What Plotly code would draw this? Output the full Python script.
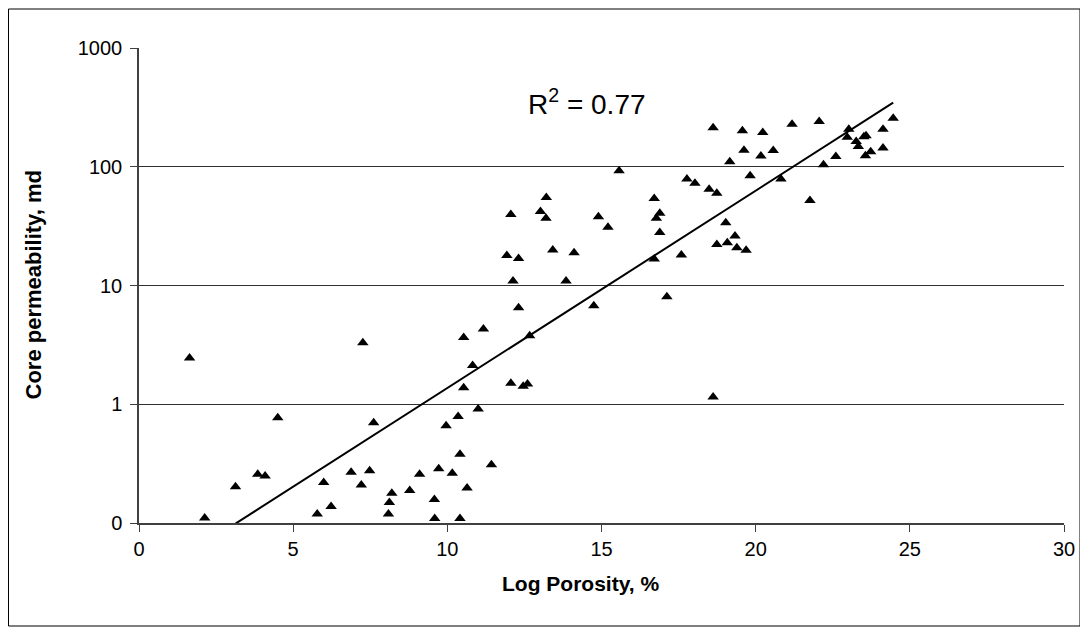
import plotly.graph_objects as go
import numpy as np

# Log porosity (%) and core permeability (md)
porosity = [1.64, 4.50, 3.85, 4.09, 3.13, 2.13, 5.99, 6.23, 5.78,
            7.26, 11.17, 10.53, 10.82, 12.06, 10.53, 7.61, 11.00, 10.35, 9.96,
            10.41, 11.43, 6.88, 7.48, 7.21, 9.10, 9.72, 10.16, 10.64, 8.78,
            8.20, 8.12, 8.09, 9.58, 9.59, 10.41,
            15.57, 13.21, 12.06, 13.02, 13.20, 14.90, 15.21, 11.93, 12.31, 13.42,
            14.11, 12.13, 13.85, 12.31, 14.75, 12.67, 12.46, 12.60,
            18.62, 19.57, 20.23, 21.18, 22.06, 19.62, 20.17, 20.57, 19.16, 19.82,
            20.82, 22.20, 22.60, 21.76, 23.02, 22.97, 23.26, 23.33, 23.51, 23.58,
            23.56, 23.73, 17.77, 18.03, 18.49, 18.74, 16.71, 16.89, 16.78, 16.89,
            19.03, 19.33, 18.74, 19.08, 19.39, 19.69, 16.71, 17.59,
            24.13, 24.46, 24.13, 17.12, 18.62]
permeability = [2.45, 0.77, 0.257, 0.249, 0.202, 0.11, 0.219, 0.138, 0.119,
                3.3, 4.3, 3.65, 2.12, 1.50, 1.38, 0.70, 0.91, 0.79, 0.66,
                0.38, 0.31, 0.267, 0.275, 0.209, 0.257, 0.286, 0.262, 0.197, 0.188,
                0.178, 0.149, 0.119, 0.158, 0.109, 0.109,
                92.6, 55, 39.7, 42, 36.8, 38, 30.9, 17.9, 16.9, 19.9,
                18.9, 10.9, 10.9, 6.5, 6.76, 3.78, 1.42, 1.48,
                213, 201, 194, 228, 240, 138, 123, 137, 110, 84,
                79, 104, 122, 52, 207, 177, 163, 148, 179, 182,
                124, 134, 79, 72.6, 64.6, 59.8, 54, 40.5, 36.8, 27.9,
                33.8, 26.1, 22.1, 22.9, 20.8, 19.8, 16.7, 18.1,
                207, 256, 144, 8.05, 1.15]

# Exponential trendline y = A * exp(B * x)
trend_A = 0.02985
trend_B = 0.3826
r_squared = 0.77

x_ticks = [0, 5, 10, 15, 20, 25, 30]
y_tickvals = [0.1, 1, 10, 100, 1000]
y_ticktext = ["0", "1", "10", "100", "1000"]

trend_x = np.array([min(porosity), max(porosity)])
trend_y = trend_A * np.exp(trend_B * trend_x)

FONT = "Arial, Liberation Sans, sans-serif"

fig = go.Figure()
fig.add_trace(go.Scatter(
    x=porosity, y=permeability, mode="markers",
    marker=dict(symbol="triangle-up", size=10, color="black"),
    showlegend=False, cliponaxis=False))
fig.add_trace(go.Scatter(
    x=trend_x, y=trend_y, mode="lines",
    line=dict(color="black", width=2), showlegend=False))

# The page body has an 8 px margin, so the figure is drawn at page (8, 8).
OFF = 8
W, H = 1088 - OFF, 635 - OFF
# plot area on the page: x 139..1064, y 48..523
L, R, T, B = 139 - OFF, 24, 48 - OFF, 112
pw, ph = W - L - R, H - T - B

def px(p):  # page x -> paper
    return (p - OFF - L) / pw

def py(p):  # page y -> paper
    return (H - B - (p - OFF)) / ph

fig.update_layout(
    width=W, height=H,
    margin=dict(l=L, r=R, t=T, b=B, pad=0),
    paper_bgcolor="white", plot_bgcolor="white",
    font=dict(family=FONT, size=20, color="black"),
    xaxis=dict(range=[0, 30], tickvals=x_ticks, showgrid=False,
               showline=True, linecolor="#404040", linewidth=1.5,
               ticks="outside", ticklen=7, tickcolor="#404040",
               tickfont=dict(size=20), zeroline=False),
    yaxis=dict(type="log", range=[-1, 3], tickvals=y_tickvals,
               ticktext=y_ticktext, showgrid=True, gridcolor="#303030",
               gridwidth=1, showline=True, linecolor="#404040", linewidth=1.5,
               ticks="outside", ticklen=7, tickcolor="#404040",
               ticklabelstandoff=4,
               tickfont=dict(size=20), zeroline=False),
    shapes=[dict(type="rect", xref="paper", yref="paper",
                 x0=px(8.5), x1=px(1080), y0=py(626), y1=py(9),
                 line=dict(color="black", width=1), layer="below")],
    annotations=[
        dict(text="<b>Log Porosity, %</b>", xref="paper", yref="paper",
             x=px(580), y=py(583), xanchor="center", yanchor="middle",
             showarrow=False, font=dict(size=21, family=FONT)),
        dict(text="<b>Core permeability, md</b>", xref="paper", yref="paper",
             x=px(33), y=0.5, xanchor="center", yanchor="middle",
             textangle=-90, showarrow=False, font=dict(size=22, family=FONT)),
        dict(text="R<sup>2</sup> = %.2f" % r_squared, xref="x", yref="y",
             x=12.55, y=np.log10(351), xanchor="left", yanchor="middle",
             showarrow=False, font=dict(size=28, family=FONT)),
    ],
)

fig.write_html("out.html")
